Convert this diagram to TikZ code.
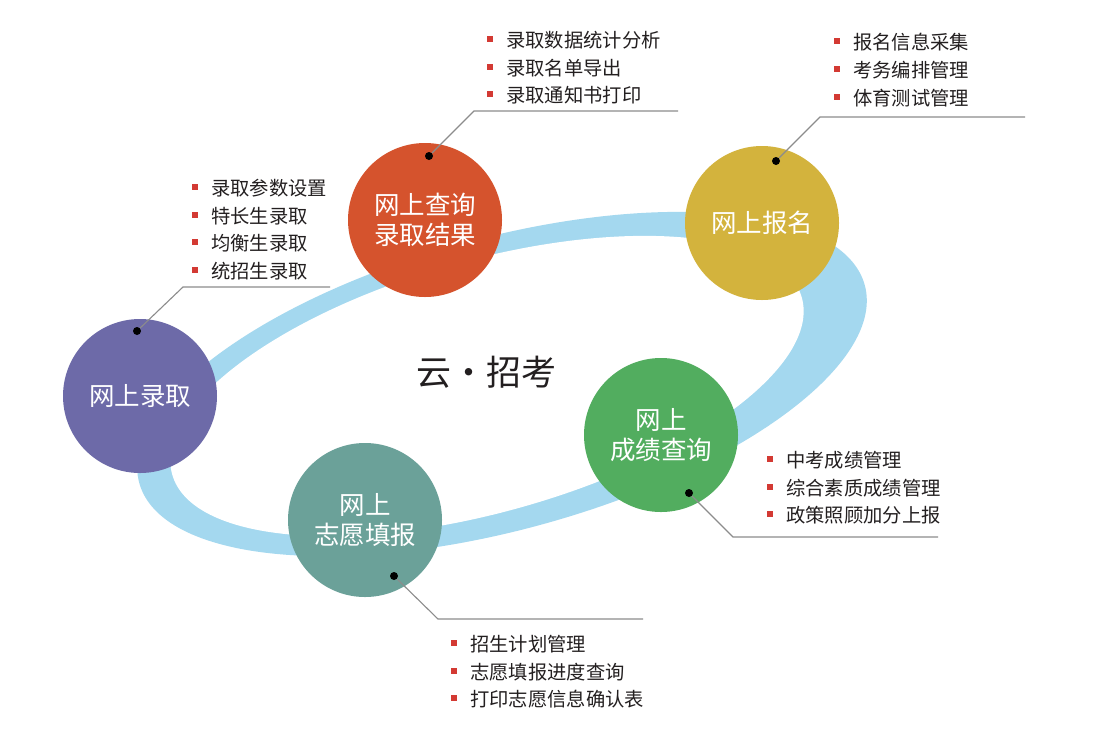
\documentclass[tikz,border=0pt]{standalone}
\usepackage{fontspec}
\newfontfamily\cjk{Noto Sans CJK SC}
\definecolor{ringblue}{HTML}{A4D8EF}
\definecolor{corange}{HTML}{D5532D}
\definecolor{cyellow}{HTML}{D3B33D}
\definecolor{cpurple}{HTML}{6D6AA8}
\definecolor{cgreen}{HTML}{52AD5F}
\definecolor{cteal}{HTML}{6BA199}
\definecolor{bulletred}{HTML}{D33A33}
\definecolor{leadergray}{HTML}{8C8C8C}
\definecolor{textdark}{HTML}{231F20}
\newcommand\itembul{\textcolor{bulletred}{\rule[5.5pt]{6pt}{6pt}}\hspace{13pt}}
\begin{document}
\begin{tikzpicture}[x=1pt,y=-1pt,
  bubble/.style={circle, minimum size=154pt, inner sep=0pt, text=white,
    font=\cjk\fontsize{25.5}{30}\selectfont, align=center},
  pin/.style={circle, fill=black, minimum size=8pt, inner sep=0pt},
  leader/.style={draw=leadergray, line width=1.1pt},
  item/.style={anchor=west, inner sep=0pt, text=textdark,
    font=\cjk\fontsize{19.3}{23}\selectfont},
  title/.style={inner sep=0pt, text=textdark, font=\cjk\fontsize{35}{40}\selectfont}]
\useasboundingbox[fill=white] (0,0) rectangle (1099,732);

% ring
\begin{scope}[shift={(502,384)}, rotate=15.25]
  \fill[ringblue] (0,0) ellipse [x radius=376pt, y radius=146pt];
\end{scope}
\begin{scope}[shift={(487,386)}, rotate=15.7]
  \fill[white] (0,0) ellipse [x radius=327pt, y radius=126pt];
\end{scope}

% circles
\node[bubble, fill=corange] (query)  at (425,220) {网上查询\\录取结果};
\node[bubble, fill=cyellow] (signup) at (762,223) {网上报名};
\node[bubble, fill=cpurple] (admit)  at (140,396) {网上录取};
\node[bubble, fill=cgreen]  (score)  at (661,435) {网上\\成绩查询};
\node[bubble, fill=cteal]   (wish)   at (365,520) {网上\\志愿填报};

\node[title] (center) at (486,372) {云\makebox[1em][c]{·}招考};

% pins and leaders
\node[pin] (p1) at (429,156) {};
\node[pin] (p2) at (776,161) {};
\node[pin] (p3) at (137,331) {};
\node[pin] (p4) at (689,493) {};
\node[pin] (p5) at (394,576) {};
\coordinate (e1) at (474,111); \coordinate (f1) at (678,111);
\coordinate (e2) at (820,117); \coordinate (f2) at (1025,117);
\coordinate (e3) at (183,287); \coordinate (f3) at (330,287);
\coordinate (e4) at (733,537); \coordinate (f4) at (938,537);
\coordinate (e5) at (438,619); \coordinate (f5) at (643,619);
\draw[leader] (p1) -- (e1) -- (f1);
\draw[leader] (p2) -- (e2) -- (f2);
\draw[leader] (p3) -- (e3) -- (f3);
\draw[leader] (p4) -- (e4) -- (f4);
\draw[leader] (p5) -- (e5) -- (f5);

% lists
\node[item] (a1) at (487,40) {\itembul 录取数据统计分析};
\node[item] (a2) at (487,68) {\itembul 录取名单导出};
\node[item] (a3) at (487,95) {\itembul 录取通知书打印};

\node[item] (b1) at (834,42) {\itembul 报名信息采集};
\node[item] (b2) at (834,70) {\itembul 考务编排管理};
\node[item] (b3) at (834,98) {\itembul 体育测试管理};

\node[item] (c1) at (192,188) {\itembul 录取参数设置};
\node[item] (c2) at (192,216) {\itembul 特长生录取};
\node[item] (c3) at (192,243) {\itembul 均衡生录取};
\node[item] (c4) at (192,271) {\itembul 统招生录取};

\node[item] (d1) at (767,460) {\itembul 中考成绩管理};
\node[item] (d2) at (767,488) {\itembul 综合素质成绩管理};
\node[item] (d3) at (767,515) {\itembul 政策照顾加分上报};

\node[item] (g1) at (451,644) {\itembul 招生计划管理};
\node[item] (g2) at (451,672) {\itembul 志愿填报进度查询};
\node[item] (g3) at (451,699) {\itembul 打印志愿信息确认表};
\end{tikzpicture}
\end{document}
